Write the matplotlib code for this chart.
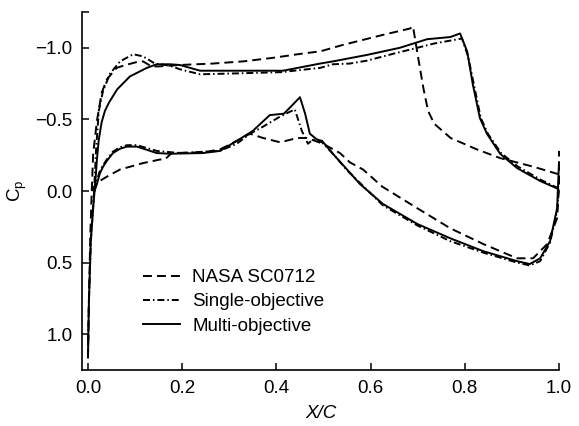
import matplotlib
matplotlib.use('Agg')
import matplotlib.pyplot as plt

plt.rcParams['font.family'] = ['Liberation Sans', 'DejaVu Sans']
plt.rcParams['mathtext.fontset'] = 'custom'
plt.rcParams['mathtext.rm'] = 'Liberation Sans'
plt.rcParams['mathtext.it'] = 'Liberation Sans:italic'

# ---------------- data ----------------
labels = ['NASA SC0712', 'Single-objective', 'Multi-objective']

nasa_up_x = [0.0, 0.002, 0.005, 0.008, 0.011, 0.019, 0.029, 0.040, 0.061, 0.080, 0.103, 0.117,
             0.135, 0.150, 0.195, 0.265, 0.329, 0.393, 0.456, 0.493, 0.541, 0.626, 0.684, 0.690,
             0.700, 0.712, 0.722, 0.735, 0.770, 0.826, 0.875, 0.945, 0.996, 1.0]
nasa_up_cp = [1.17, 0.75, 0.30, 0.0, -0.26, -0.49, -0.685, -0.78, -0.86, -0.88, -0.90, -0.905,
              -0.87, -0.87, -0.88, -0.89, -0.905, -0.93, -0.96, -0.975, -1.02, -1.09, -1.135, -1.15,
              -0.95, -0.72, -0.56, -0.47, -0.37, -0.29, -0.23, -0.17, -0.12, -0.12]
nasa_lo_x = [0.008, 0.015, 0.025, 0.040, 0.068, 0.117, 0.153, 0.163, 0.178, 0.244, 0.280, 0.316,
             0.344, 0.372, 0.408, 0.444, 0.465, 0.499, 0.535, 0.556, 0.584, 0.625, 0.699, 0.769,
             0.839, 0.911, 0.945, 0.975, 0.996, 1.0, 1.0]
nasa_lo_cp = [0.0, -0.04, -0.07, -0.10, -0.15, -0.195, -0.22, -0.22, -0.265, -0.27, -0.29, -0.35,
              -0.40, -0.37, -0.34, -0.37, -0.37, -0.33, -0.265, -0.20, -0.15, -0.03, 0.12, 0.26,
              0.37, 0.47, 0.47, 0.37, 0.19, -0.05, -0.28]

single_up_x = [0.0, 0.002, 0.006, 0.013, 0.017, 0.023, 0.032, 0.047, 0.068, 0.096, 0.117, 0.142,
               0.174, 0.195, 0.238, 0.30, 0.41, 0.493, 0.520, 0.556, 0.592, 0.650, 0.699, 0.735,
               0.794, 0.807, 0.822, 0.834, 0.849, 0.877, 0.913, 0.962, 0.998]
single_up_cp = [1.15, 0.77, 0.35, 0.0, -0.28, -0.56, -0.70, -0.82, -0.905, -0.955, -0.94, -0.89,
                -0.875, -0.85, -0.815, -0.82, -0.83, -0.86, -0.885, -0.89, -0.91, -0.96, -1.0, -1.03,
                -1.065, -0.94, -0.70, -0.51, -0.40, -0.265, -0.17, -0.077, -0.02]
single_lo_x = [0.013, 0.018, 0.024, 0.032, 0.040, 0.053, 0.068, 0.083, 0.104, 0.146, 0.195, 0.280,
               0.316, 0.344, 0.372, 0.408, 0.439, 0.454, 0.467, 0.478, 0.497, 0.520, 0.550, 0.626,
               0.699, 0.769, 0.839, 0.911, 0.938, 0.960, 0.981, 0.996, 1.0]
single_lo_cp = [0.0, -0.06, -0.13, -0.18, -0.22, -0.275, -0.305, -0.32, -0.32, -0.28, -0.265, -0.28,
                -0.33, -0.40, -0.45, -0.52, -0.57, -0.42, -0.33, -0.36, -0.34, -0.26, -0.145, 0.10,
                0.24, 0.35, 0.43, 0.50, 0.52, 0.49, 0.36, 0.14, -0.03]

multi_up_x = [0.0, 0.002, 0.006, 0.012, 0.016, 0.019, 0.023, 0.029, 0.036, 0.045, 0.062, 0.089,
              0.125, 0.146, 0.174, 0.195, 0.238, 0.323, 0.414, 0.493, 0.520, 0.592, 0.662, 0.720,
              0.769, 0.790, 0.805, 0.817, 0.832, 0.847, 0.875, 0.911, 0.960, 0.998]
multi_up_cp = [1.15, 0.77, 0.35, 0.08, -0.08, -0.22, -0.36, -0.48, -0.56, -0.62, -0.71, -0.80,
               -0.86, -0.885, -0.885, -0.88, -0.84, -0.84, -0.84, -0.89, -0.905, -0.95, -1.0, -1.06,
               -1.075, -1.10, -0.975, -0.745, -0.51, -0.40, -0.26, -0.16, -0.07, -0.015]
multi_lo_x = [0.014, 0.019, 0.025, 0.032, 0.040, 0.053, 0.068, 0.083, 0.104, 0.146, 0.174, 0.244,
              0.280, 0.316, 0.350, 0.386, 0.416, 0.431, 0.450, 0.461, 0.471, 0.486, 0.497, 0.520,
              0.550, 0.577, 0.626, 0.699, 0.769, 0.839, 0.911, 0.938, 0.960, 0.981, 0.996, 1.0]
multi_lo_cp = [0.0, -0.05, -0.12, -0.17, -0.21, -0.265, -0.295, -0.31, -0.31, -0.265, -0.26, -0.265,
               -0.28, -0.35, -0.42, -0.53, -0.54, -0.59, -0.655, -0.54, -0.40, -0.36, -0.35, -0.26,
               -0.15, -0.05, 0.09, 0.23, 0.33, 0.42, 0.49, 0.51, 0.47, 0.35, 0.12, -0.2]

x_ticks = [0.0, 0.2, 0.4, 0.6, 0.8, 1.0]
y_ticks = [-1.0, -0.5, 0.0, 0.5, 1.0]

# ---------------- figure ----------------
fig = plt.figure(figsize=(5.79, 4.26), dpi=100)
ax = fig.add_axes([82 / 579, 1 - 370 / 426, 477 / 579, 358 / 426])

lw = 1.4
dash = (0, (4.6, 2.6))
dashdot = (0, (3.6, 1.5, 0.8, 1.5))

series = [
    (nasa_up_x, nasa_up_cp, nasa_lo_x, nasa_lo_cp, dash),
    (single_up_x, single_up_cp, single_lo_x, single_lo_cp, dashdot),
    (multi_up_x, multi_up_cp, multi_lo_x, multi_lo_cp, '-'),
]
handles = []
for (ux, uc, lx, lc, ls), lab in zip(series, labels):
    h, = ax.plot(ux, uc, color='black', lw=lw, linestyle=ls, label=lab, clip_on=False)
    ax.plot(lx, lc, color='black', lw=lw, linestyle=ls, clip_on=False)
    handles.append(h)

ax.set_xlim(-0.0127, 1.0)
ax.set_ylim(1.25, -1.25)
ax.set_xticks(x_ticks)
ax.set_xticklabels([f'{v:.1f}' for v in x_ticks])
ax.set_yticks(y_ticks)
ax.set_yticklabels([f'{v:.1f}'.replace('-', '\u2212') for v in y_ticks])
ax.set_yticks([-1.25], minor=True)
ax.tick_params(which='both', direction='in', length=5, width=1.1, labelsize=13.5)
ax.tick_params(axis='x', pad=7)
ax.tick_params(axis='y', pad=7)
ax.tick_params(axis='y', which='minor', labelleft=False)

for s in ['top', 'right']:
    ax.spines[s].set_visible(False)
for s in ['left', 'bottom']:
    ax.spines[s].set_linewidth(1.2)

ax.set_xlabel('X/C', fontsize=13.5, fontstyle='italic', labelpad=6)
ax.set_ylabel(r'C$_\mathrm{p}$', fontsize=13.5, labelpad=4)

ax.legend(handles=handles, loc='upper left', bbox_to_anchor=(0.127, 0.282), frameon=False,
          fontsize=13.5, handlelength=2.0, handletextpad=0.65, labelspacing=0.38,
          borderpad=0, borderaxespad=0)

fig.savefig('out.png', dpi=100)
